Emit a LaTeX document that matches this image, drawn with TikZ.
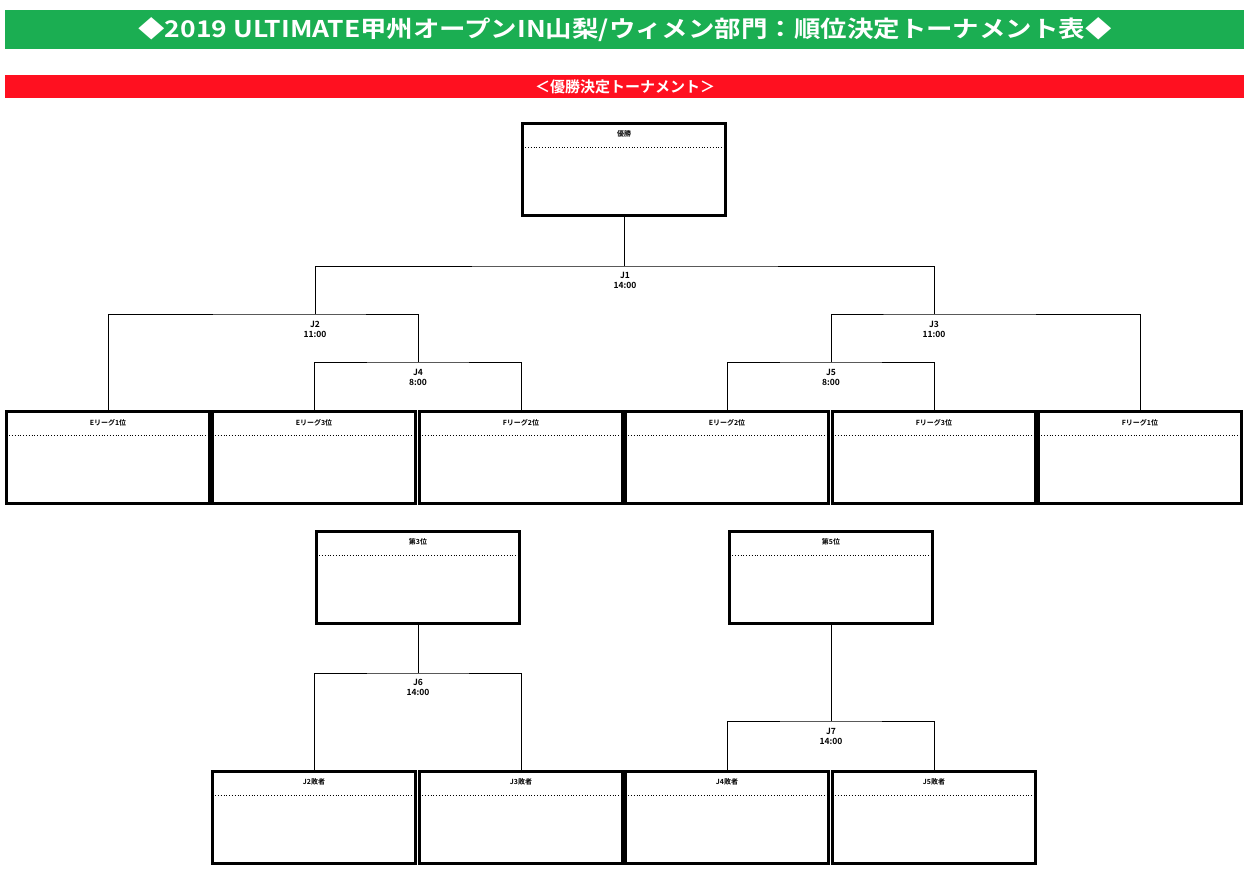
\documentclass[tikz,border=0pt]{standalone}
\usepackage{fontspec}
\setmainfont{Liberation Sans}
\newfontfamily\jfont{Noto Sans CJK JP}[BoldFont={* Bold}]
\usetikzlibrary{positioning}
\definecolor{titlegreen}{RGB}{27,174,82}
\definecolor{barred}{RGB}{255,16,32}
\tikzset{
  slotbox/.style={draw, line width=2.6pt, minimum width=203.4pt, minimum height=92.4pt, anchor=north west, inner sep=0pt, outer sep=0pt},
  slotlabel/.style={font=\jfont\bfseries\fontsize{7}{8}\selectfont},
  gamelabel/.style={font=\jfont\bfseries\fontsize{8.5}{10}\selectfont, align=center, inner sep=0pt},
  link/.style={line width=0.8pt}
}
\newcommand{\slot}[4]{%
  \node[slotbox] (#1) at (#2+1.3,#3+1.3) {};
  \draw[dotted, line width=0.8pt] ([yshift=-24pt]#1.north west) -- ([yshift=-24pt]#1.north east);
  \node[slotlabel] at ([yshift=-11pt]#1.north) {#4};
}
\begin{document}
\begin{tikzpicture}[x=1pt,y=-1pt]
  \useasboundingbox (0,0) rectangle (1250,872);
  % title bars
  \fill[titlegreen] (5,10) rectangle (1244,49);
  \node[text=white, font=\jfont\bfseries\fontsize{23}{26}\selectfont, xscale=1.15] (title) at (625,30) {◆2019 ULTIMATE甲州オープンIN山梨/ウィメン部門：順位決定トーナメント表◆};
  \fill[barred] (5,75) rectangle (1244,98);
  \node[text=white, font=\jfont\bfseries\fontsize{15}{17}\selectfont] (sub) at (625,86.5) {＜優勝決定トーナメント＞};
  % boxes
  \slot{win}{521}{122}{優勝}
  \slot{e1}{5}{410}{Eリーグ1位}
  \slot{e3}{211}{410}{Eリーグ3位}
  \slot{f2}{418}{410}{Fリーグ2位}
  \slot{e2}{624}{410}{Eリーグ2位}
  \slot{f3}{831}{410}{Fリーグ3位}
  \slot{f1}{1037}{410}{Fリーグ1位}
  \slot{third}{315}{530}{第3位}
  \slot{fifth}{728}{530}{第5位}
  \slot{l2}{211}{770}{J2敗者}
  \slot{l3}{418}{770}{J3敗者}
  \slot{l4}{624}{770}{J4敗者}
  \slot{l5}{831}{770}{J5敗者}
  % junctions
  \coordinate (j1) at (625,266);
  \coordinate (j2) at (315,314);
  \coordinate (j3) at (934,314);
  \coordinate (j4) at (418,362);
  \coordinate (j5) at (831,362);
  \coordinate (j6) at (418,673);
  \coordinate (j7) at (831,721);
  % brackets
  \draw[link] (win.south) -- (win.south |- j1);
  \draw[link] (j2) |- (j1) -| (j3);
  \draw[link] (e1.north) |- (j2) -| (j4);
  \draw[link] (e3.north) |- (j4) -| (f2.north);
  \draw[link] (f1.north) |- (j3) -| (j5);
  \draw[link] (e2.north) |- (j5) -| (f3.north);
  \draw[link] (third.south) -- (third.south |- j6);
  \draw[link] (l2.north) |- (j6) -| (l3.north);
  \draw[link] (fifth.south) -- (fifth.south |- j7);
  \draw[link] (l4.north) |- (j7) -| (l5.north);
  % game labels
  \node[gamelabel] (g1) at (625,280) {J1\\14:00};
  \node[gamelabel] (g2) at (315,329) {J2\\11:00};
  \node[gamelabel] (g3) at (934,329) {J3\\11:00};
  \node[gamelabel] (g4) at (418,377) {J4\\8:00};
  \node[gamelabel] (g5) at (831,377) {J5\\8:00};
  \node[gamelabel] (g6) at (418,687) {J6\\14:00};
  \node[gamelabel] (g7) at (831,736) {J7\\14:00};
\end{tikzpicture}
\end{document}
